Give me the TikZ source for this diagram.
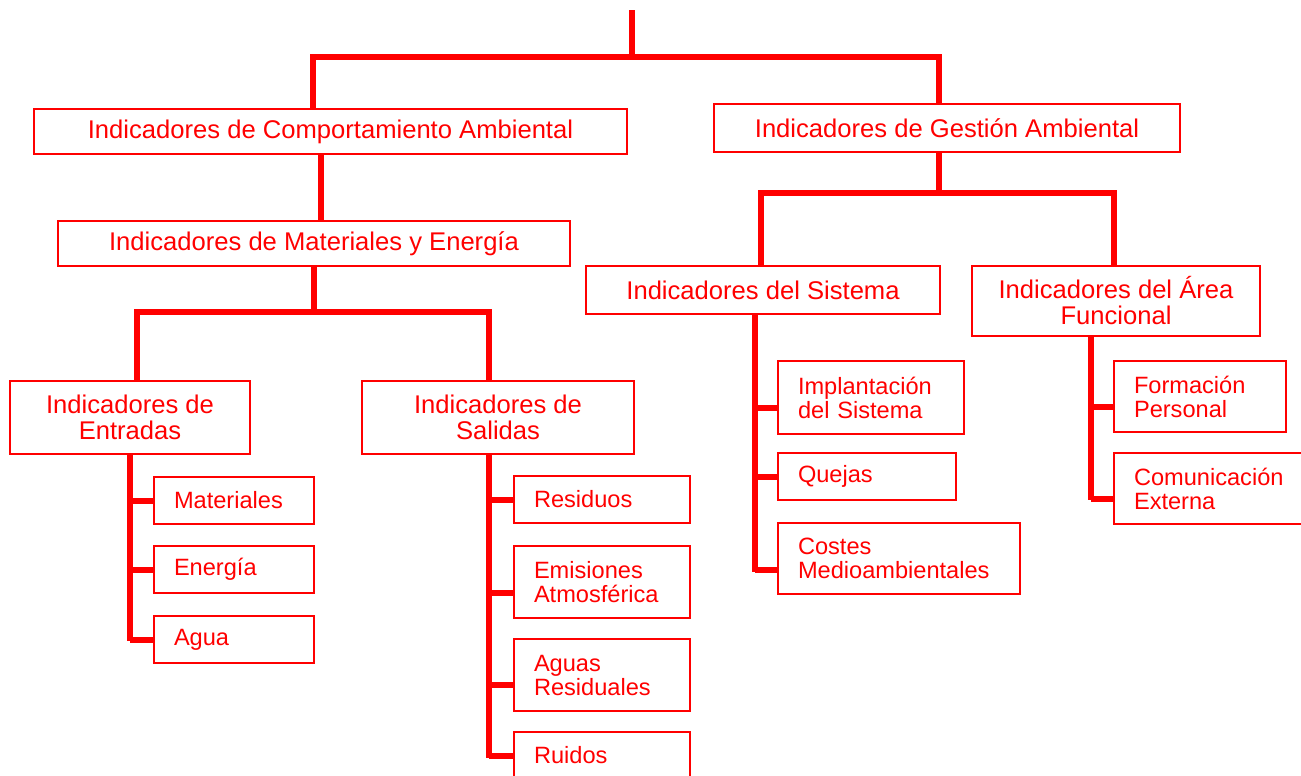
\documentclass[tikz,border=0pt]{standalone}
\usepackage{fontspec}
\setmainfont{Liberation Sans}
\usetikzlibrary{calc}

\begin{document}
\begin{tikzpicture}[x=0.5pt, y=-0.5pt,
    box/.style={draw=red, line width=1pt, text=red, anchor=north west, inner sep=0pt},
    head/.style={box, align=center, font=\fontsize{12.8}{13}\selectfont},
    leaf/.style={box, align=left, inner xsep=10pt, text width=#1, font=\fontsize{11.8}{12}\selectfont},
    link/.style={draw=red, line width=3pt, line join=miter}]
    \useasboundingbox (0,0) rectangle (1301,776);
    \clip (0,0) rectangle (1301,776);

    \node[head, minimum width=296.5pt, minimum height=22.5pt] (ca) at (33,108) {Indicadores de Comportamiento Ambiental};
    \node[head, minimum width=233pt, minimum height=24pt] (ga) at (713,103) {Indicadores de Gestión Ambiental};
    \node[head, minimum width=256pt, minimum height=22.5pt] (me) at (57,220) {Indicadores de Materiales y Energía};
    \node[head, minimum width=120pt, minimum height=36.5pt] (ent) at (9,380) {Indicadores de\\Entradas};
    \node[head, minimum width=136pt, minimum height=36.5pt] (sal) at (361,380) {Indicadores de\\Salidas};
    \node[head, minimum width=177pt, minimum height=24pt] (sis) at (585,265) {Indicadores del Sistema};
    \node[head, minimum width=144pt, minimum height=35pt] (area) at (971,265) {Indicadores del Área\\Funcional};

    \node[leaf=60pt, minimum height=23.5pt] (mat) at (153,476) {Materiales};
    \node[leaf=60pt, minimum height=23.5pt] (ene) at (153,545) {Energía};
    \node[leaf=60pt, minimum height=23.5pt] (agu) at (153,615) {Agua};

    \node[leaf=68pt, minimum height=23.5pt] (res) at (513,475) {Residuos};
    \node[leaf=68pt, minimum height=36pt] (emi) at (513,545) {Emisiones\\Atmosférica};
    \node[leaf=68pt, minimum height=36pt] (aguas) at (513,638) {Aguas\\Residuales};
    \node[leaf=68pt, minimum height=23.5pt] (rui) at (513,731) {Ruidos};

    \node[leaf=73pt, minimum height=36.5pt] (imp) at (777,360) {Implantación\\del Sistema};
    \node[leaf=69pt, minimum height=23.5pt] (que) at (777,452) {Quejas};
    \node[leaf=101pt, minimum height=35.5pt] (cos) at (777,522) {Costes\\Medioambientales};

    \node[leaf=66pt, minimum height=35.5pt] (for) at (1113,360) {Formación\\Personal};
    \node[leaf=81pt, minimum height=35.5pt] (com) at (1113,452) {Comunicación\\Externa};

    \coordinate (root) at (632,10);
    \coordinate (jca) at (313,57);
    \coordinate (jga) at (939,57);
    \draw[link] (root) -- (root |- jca);
    \draw[link] (jca |- ca.north) -- (jca) -- (jga) -- (jga |- ga.north);

    \coordinate (jme) at (321,0);
    \draw[link] (jme |- ca.south) -- (jme |- me.north);

    \coordinate (jent) at (137,312);
    \coordinate (jsal) at (489,312);
    \draw[link] (me.south) -- (me.south |- jent);
    \draw[link] (jent |- ent.north) -- (jent) -- (jsal) -- (jsal |- sal.north);

    \coordinate (jsis) at (761,193);
    \coordinate (jarea) at (1114,193);
    \draw[link] (jga |- ga.south) -- (jga |- jsis);
    \draw[link] (jsis |- sis.north) -- (jsis) -- (jarea) -- (jarea |- area.north);

    \coordinate (emib) at ([yshift=-5.5pt]emi.west);
    \coordinate (aguasb) at ([yshift=-5pt]aguas.west);
    \coordinate (impb) at ([yshift=-5pt]imp.west);
    \coordinate (cosb) at ([yshift=-5.5pt]cos.west);
    \coordinate (forb) at ([yshift=-5pt]for.west);
    \coordinate (comb) at ([yshift=-5pt]com.west);

    \coordinate (sent) at (130,641);
    \draw[link] (sent |- ent.south) -- (sent);
    \foreach \n in {mat,ene,agu}
        \draw[link] (sent |- \n.west) -- (\n.west);

    \coordinate (ssal) at (489,758);
    \draw[link] (ssal |- sal.south) -- (ssal);
    \foreach \n in {res.west,emib,aguasb,rui.west}
        \draw[link] (ssal |- \n) -- (\n);

    \coordinate (ssis) at (755,572);
    \draw[link] (ssis |- sis.south) -- (ssis);
    \foreach \n in {impb,que.west,cosb}
        \draw[link] (ssis |- \n) -- (\n);

    \coordinate (sarea) at (1091,500);
    \draw[link] (sarea |- area.south) -- (sarea);
    \foreach \n in {forb,comb}
        \draw[link] (sarea |- \n) -- (\n);
\end{tikzpicture}
\end{document}
